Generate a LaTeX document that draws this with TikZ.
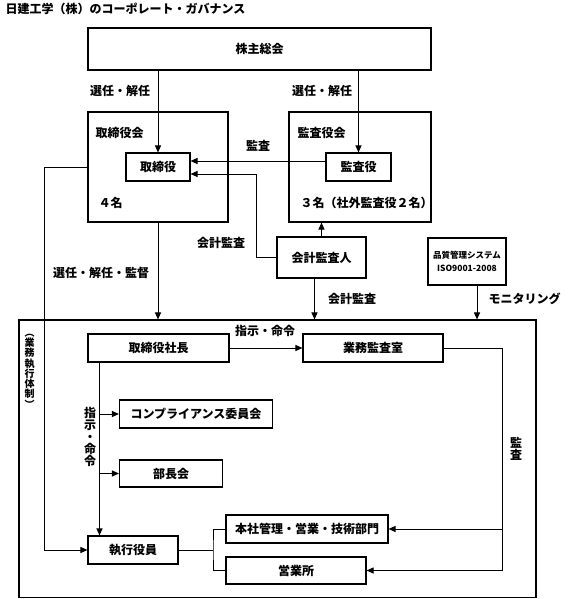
\documentclass[tikz,border=0pt]{standalone}
\usepackage{fontspec}
\setmainfont{Noto Sans CJK JP}
\usetikzlibrary{arrows.meta}
\begin{document}
\begin{tikzpicture}[x=1pt,y=-1pt,
  font=\fontsize{12pt}{14pt}\selectfont\bfseries,
  line width=1pt, line join=miter,
  bx/.style 2 args={draw, line width=1.1pt, inner sep=0pt, minimum width=#1, minimum height=#2},
  lab/.style={inner sep=0pt},
  arr/.style={-{Triangle[length=7pt,width=6pt]}}]
\useasboundingbox (0,0) rectangle (571,599);

% title
\node[lab,anchor=west] (title) at (5,9) {日建工学（株）のコーポレート・ガバナンス};

% top part
\node[bx={343pt}{42pt}] (soukai) at (259.5,49) {株主総会};
\node[bx={140pt}{110pt}] (torikai) at (158,167) {};
\node[lab,anchor=west] (torikailab) at (95,133) {取締役会};
\node[lab,anchor=west] (torikainum) at (98,203) {４名};
\node[bx={64pt}{28pt}] (tori) at (158,167) {取締役};

\node[bx={142pt}{110pt}] (kansakai) at (360,167) {};
\node[lab,anchor=west] (kansakailab) at (297,133) {監査役会};
\node[lab,anchor=west] (kansakainum) at (300,203) {３名（社外監査役２名）};
\node[bx={65pt}{28pt}] (kansa) at (358.5,167) {監査役};

\node[bx={89pt}{41pt}] (kaikei) at (321.5,257.5) {会計監査人};
\node[bx={78pt}{47pt}, align=center, font=\fontsize{8.5pt}{13pt}\selectfont\bfseries] (hinshitsu) at (467,261.5) {品質管理システム\\ISO9001-2008};

% labels top
\node[lab] (l1) at (120,91) {選任・解任};
\node[lab] (l2) at (322,91) {選任・解任};
\node[lab] (l3) at (258,146) {監査};
\node[lab] (l4) at (221,243) {会計監査};
\node[lab] (l5) at (101,273) {選任・解任・監督};
\node[lab] (l6) at (352,299) {会計監査};
\node[lab] (l7) at (524.5,299) {モニタリング};

% big frame
\node[bx={517pt}{277.5pt}] (big) at (277.5,458.75) {};
\node[lab, align=center, font=\fontsize{10pt}{10.3pt}\selectfont\bfseries] (taisei) at (29.5,371) {︵\\業\\務\\執\\行\\体\\制\\︶};

\node[bx={141pt}{28pt}] (shacho) at (158.5,348) {取締役社長};
\node[bx={140pt}{28pt}] (gyomu) at (373,348) {業務監査室};
\node[bx={153pt}{28pt}] (comp) at (196,414) {コンプライアンス委員会};
\node[bx={103pt}{27pt}] (bucho) at (171,473.5) {部長会};
\node[bx={90pt}{28pt}] (shikko) at (133,550) {執行役員};
\node[bx={162pt}{28pt}] (honsha) at (307,529) {本社管理・営業・技術部門};
\node[bx={140pt}{27pt}] (eigyo) at (296,570.5) {営業所};

\node[lab] (l8) at (265,331) {指示・命令};
\node[lab, align=center, font=\fontsize{12pt}{12pt}\selectfont\bfseries] (l9) at (90,437) {指\\示\\・\\命\\令};
\node[lab, align=center, font=\fontsize{12pt}{12pt}\selectfont\bfseries] (l10) at (516,449) {監\\査};

% connectors
\draw[arr] (soukai.south -| tori.north) -- (tori.north);
\draw[arr] (soukai.south -| kansa.north) -- (kansa.north);
\draw[arr] ([yshift=6pt]kansa.west) -- ([yshift=6pt]tori.east);
\coordinate (kc) at (256,174);
\draw[arr] (kaikei.west) -| (kc) -- ([yshift=-7pt]tori.east);
\draw[arr] (kaikei.north) -- (kaikei.north |- kansakai.south);
\coordinate (lc) at (44,167);
\draw[arr] (torikai.west) -- (lc) |- (shikko.west);
\draw[arr] (torikai.south) -- (torikai.south |- big.north);
\draw[arr] ([xshift=-7pt]kaikei.south) -- ([xshift=-7pt]kaikei.south |- big.north);
\draw[arr] ([xshift=10pt]hinshitsu.south) -- ([xshift=10pt]hinshitsu.south |- big.north);

\draw[arr] (shacho.east) -- (gyomu.west);
\coordinate (rc) at (502,348);
\draw[arr] (gyomu.east) -- (rc) |- (eigyo.east);
\draw[arr] (rc |- honsha.east) -- (honsha.east);

\coordinate (vtop) at (99.5,362);
\draw[arr] (vtop) -- (vtop |- shikko.north);
\draw[arr] (vtop |- comp.west) -- (comp.west);
\draw[arr] (vtop |- bucho.west) -- (bucho.west);

\coordinate (jc) at (213,550);
\draw (shikko.east) -- (jc);
\draw (honsha.west) -| (jc) |- (eigyo.west);
\end{tikzpicture}
\end{document}
